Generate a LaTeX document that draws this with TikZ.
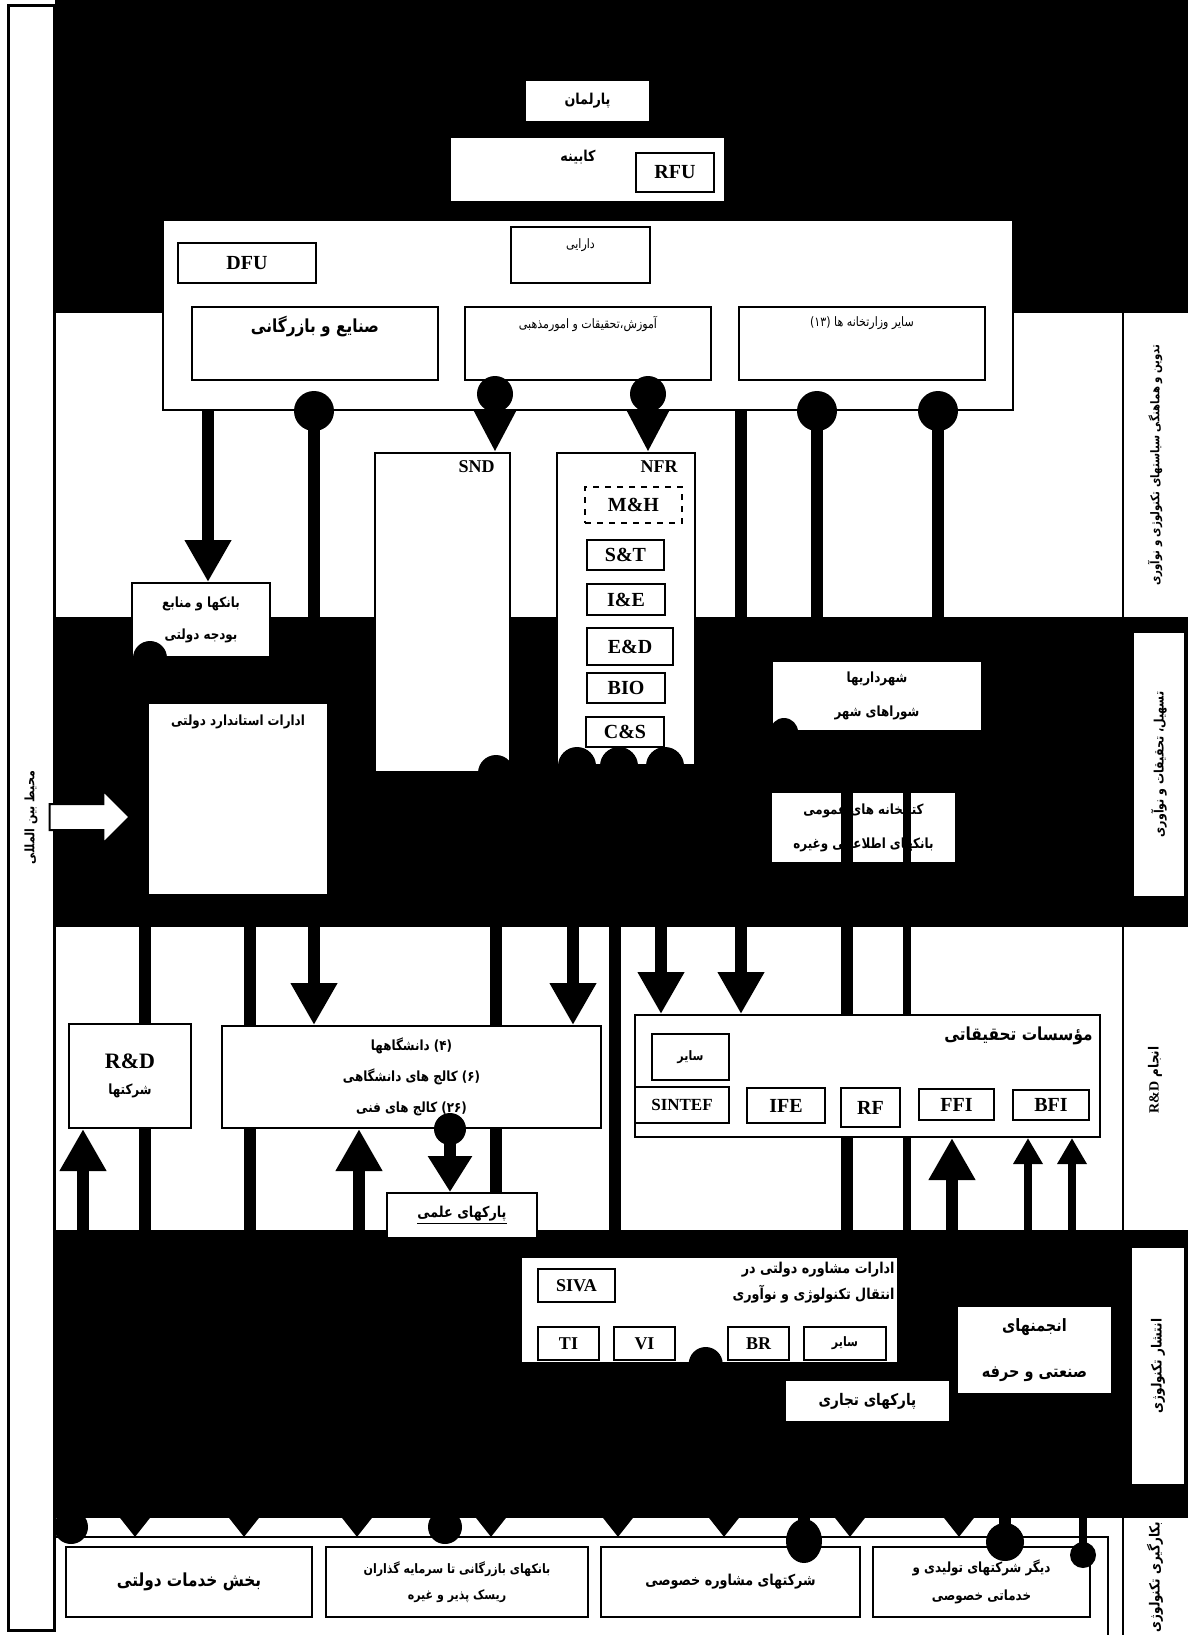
\documentclass[tikz,border=0pt]{standalone}
\usepackage{fontspec}
\setmainfont{Liberation Serif}
\newfontfamily\persianfont[Script=Arabic,FakeStretch=0.85]{DejaVu Sans}
\TeXXeTstate=1
\usetikzlibrary{arrows.meta,positioning,shapes.arrows,calc}
\newcommand{\pers}[1]{{\persianfont\beginR#1\endR}}
\pgfdeclarelayer{bands}
\pgfdeclarelayer{under}
\pgfdeclarelayer{wires}
\pgfdeclarelayer{top}
\pgfsetlayers{bands,under,wires,main,top}

\begin{document}
\begin{tikzpicture}[
  x=0.5pt, y=-0.5pt,
  box/.style={draw, fill=white, line width=1pt, inner sep=1pt, align=center},
  pbox/.style={box, font=\persianfont\bfseries\fontsize{7.5}{16}\selectfont},
  lbox/.style={box, line width=1.2pt, font=\bfseries\fontsize{10}{11}\selectfont},
  ptxt/.style={inner sep=0pt, align=center, font=\persianfont\bfseries\fontsize{7.5}{16}\selectfont},
  ntxt/.style={inner sep=0pt, align=center, font=\persianfont\fontsize{6.5}{14}\selectfont},
  ltxt/.style={inner sep=0pt, font=\bfseries\fontsize{9}{10}\selectfont},
  link/.style={line width=6pt},
  tolink/.style={link, -{Triangle[length=21pt,width=22pt]}},
  smallup/.style={line width=4pt, -{Triangle[length=13pt,width=14pt]}},
  endtip/.style={link, -{Triangle[length=10pt,width=15pt]}},
  band/.style={fill=black}
]
\useasboundingbox (0,0) rectangle (1188,1635);
\foreach \v in {71,83,135,145,208,244,250,314,357,359,445,450,491,495,496,573,615,618,648,661,724,741,804,817,847,850,907,938,952,959,1005,1028,1072,1083}
  \coordinate (x\v) at (\v,0);
\coordinate (b4) at (0,1470);
\coordinate (usr) at (0,1537);

\begin{pgfonlayer}{bands}
\fill[white] (0,0) rectangle (1188,1635);
\fill[band] (55,0) rectangle (1188,313);
\fill[band] (55,617) rectangle (1188,927);
\fill[band] (55,1230) rectangle (1188,1518);
\draw[line width=1pt] (1123,313) -- (1123,617) (1123,927) -- (1123,1230) (1123,1518) -- (1123,1635);
\draw[line width=1pt] (54,1537) -- (1108,1537) -- (1108,1635);
\end{pgfonlayer}

\node[pbox, rotate=90, line width=1.5pt, minimum width=812.5pt, minimum height=23pt, font=\persianfont\bfseries\fontsize{6.5}{7}\selectfont] (env) at (31,817.5) {\pers{محیط بین المللی}};

\node[pbox, minimum width=62.5pt, minimum height=21pt] (parl) at (587.5,101) {\pers{پارلمان}};
\node[box, minimum width=137.5pt, minimum height=32.5pt] (cab) at (587.5,169.5) {};
\node[ptxt] (cabT) at (578,157) {\pers{کابینه}};
\node[lbox, minimum width=39pt, minimum height=19.5pt] (rfu) at (675,172.5) {RFU};
\node[box, minimum width=425pt, minimum height=95pt] (minist) at (588,315) {};
\node[lbox, minimum width=69pt, minimum height=20pt] (dfu) at (247,263) {DFU};
\node[box, minimum width=69.5pt, minimum height=28pt] (darayi) at (580.5,255) {};
\node[ntxt, below=6pt of darayi.north] (darayiT) {\pers{دارایی}};
\node[box, minimum width=123pt, minimum height=36.5pt] (ind) at (315,343.5) {};
\node[ptxt, font=\persianfont\bfseries\fontsize{9}{11}\selectfont, below=5pt of ind.north] (indT) {\pers{صنایع و بازرگانی}};
\node[box, minimum width=123pt, minimum height=36.5pt] (edu) at (588,343.5) {};
\node[ntxt, below=5pt of edu.north] (eduT) {\pers{آموزش،تحقیقات و امورمذهبی}};
\node[box, minimum width=123pt, minimum height=36.5pt] (oth) at (862,343.5) {};
\node[ntxt, below=5pt of oth.north] (othT) {\pers{سایر وزارتخانه ها (۱۳)}};

\node[pbox, minimum width=69pt, minimum height=37pt, font=\persianfont\bfseries\fontsize{7}{16}\selectfont] (banks) at (201,620) {\pers{بانکها و منابع}\\\pers{بودجه دولتی}};
\node[box, minimum width=67.5pt, minimum height=159.5pt] (snd) at (442.5,612.5) {};
\node[ltxt, below left=4pt and 8pt of snd.north east] (sndT) {SND};
\node[box, minimum width=69pt, minimum height=156pt] (nfr) at (626,609) {};
\node[ltxt, below left=4pt and 9pt of nfr.north east] (nfrT) {NFR};
\node[lbox, dashed, minimum width=48.5pt, minimum height=18pt] (mh) at (633.5,505) {M\&H};
\node[lbox, minimum width=38.5pt, minimum height=15pt] (st) at (625.5,555) {S\&T};
\node[lbox, minimum width=39pt, minimum height=15.5pt] (ie) at (626,599.5) {I\&E};
\node[lbox, minimum width=43pt, minimum height=18.5pt] (ed) at (630,646.5) {E\&D};
\node[lbox, minimum width=39pt, minimum height=15pt] (bio) at (626,688) {BIO};
\node[lbox, minimum width=39pt, minimum height=15pt] (cs) at (625,732) {C\&S};
\node[box, minimum width=90pt, minimum height=96pt] (std) at (238,799) {};
\node[ptxt, font=\persianfont\bfseries\fontsize{7}{8}\selectfont, below=6pt of std.north] (stdT) {\pers{ادارات استاندارد دولتی}};
\node[single arrow, draw, fill=white, line width=1pt, inner xsep=0pt, inner ysep=6pt, minimum height=40pt, single arrow head extend=6.5pt, single arrow head indent=0pt] (inarr) at (83,817) {};
\node[pbox, minimum width=105pt, minimum height=35pt, font=\persianfont\bfseries\fontsize{7}{17}\selectfont] (munic) at (877,696) {\pers{شهرداریها}\\\pers{شوراهای شهر}};
\begin{pgfonlayer}{under}
\node[pbox, minimum width=92.5pt, minimum height=35.5pt, font=\persianfont\bfseries\fontsize{7}{17}\selectfont] (libr) at (863.5,827.5) {\pers{کتابخانه های عمومی}\\\pers{بانکهای اطلاعاتی وغیره}};
\end{pgfonlayer}

\node[pbox, minimum width=61pt, minimum height=52pt, font=\persianfont\bfseries\fontsize{7}{13}\selectfont] (rdco) at (130,1076) {{\rmfamily\bfseries\fontsize{11}{13}\selectfont R\&D}\\\pers{شرکتها}};
\node[pbox, minimum width=189.5pt, minimum height=51pt, font=\persianfont\bfseries\fontsize{7}{15.5}\selectfont] (univ) at (411.5,1077) {\pers{(۴) دانشگاهها}\\\pers{(۶) کالج های دانشگاهی}\\\pers{(۲۶) کالج های فنی}};
\node[box, minimum width=232.5pt, minimum height=61pt] (rinst) at (867.5,1076) {};
\node[ptxt, font=\persianfont\bfseries\fontsize{9}{11}\selectfont, below left=6pt and 4pt of rinst.north east] (rinstT) {\pers{مؤسسات تحقیقاتی}};
\node[pbox, minimum width=38.5pt, minimum height=23pt, font=\persianfont\bfseries\fontsize{6.5}{8}\selectfont] (rothr) at (690.5,1057) {\pers{سایر}};
\node[lbox, minimum width=47pt, minimum height=18pt, font=\bfseries\fontsize{8.5}{10}\selectfont] (sintef) at (682,1105) {SINTEF};
\node[lbox, minimum width=39pt, minimum height=17.5pt] (ife) at (786,1105.5) {IFE};
\node[lbox, minimum width=29.5pt, minimum height=19.5pt] (rf) at (870.5,1107.5) {RF};
\node[lbox, minimum width=37.5pt, minimum height=15.5pt] (ffi) at (956.5,1104.5) {FFI};
\node[lbox, minimum width=38pt, minimum height=15pt] (bfi) at (1051,1105) {BFI};
\node[pbox, minimum width=75pt, minimum height=22.5pt] (spark) at (462,1215.5) {\underline{\pers{پارکهای علمی}}};

\node[box, minimum width=188.5pt, minimum height=53pt] (advis) at (709.5,1310) {};
\node[ptxt, align=right, font=\persianfont\bfseries\fontsize{7.5}{13}\selectfont, below left=3pt and 2pt of advis.north east] (advisT) {\pers{ادارات مشاوره دولتی در}\\\pers{انتقال تکنولوژی و نوآوری}};
\node[lbox, minimum width=38.5pt, minimum height=16.5pt, font=\bfseries\fontsize{9}{10}\selectfont] (siva) at (576.5,1285.5) {SIVA};
\node[lbox, minimum width=30.5pt, minimum height=16.5pt, font=\bfseries\fontsize{9}{10}\selectfont] (ti) at (568.5,1343.5) {TI};
\node[lbox, minimum width=30.5pt, minimum height=16.5pt, font=\bfseries\fontsize{9}{10}\selectfont] (vi) at (644.5,1343.5) {VI};
\node[lbox, minimum width=30.5pt, minimum height=16.5pt, font=\bfseries\fontsize{9}{10}\selectfont] (br) at (758.5,1343.5) {BR};
\node[pbox, minimum width=41pt, minimum height=16.5pt, font=\persianfont\bfseries\fontsize{6.5}{8}\selectfont] (aothr) at (845,1343.5) {\pers{سایر}};
\node[pbox, minimum width=82.5pt, minimum height=21pt, font=\persianfont\bfseries\fontsize{8}{10}\selectfont] (tpark) at (867.5,1401) {\pers{پارکهای تجاری}};
\node[pbox, minimum width=77.5pt, minimum height=44pt, font=\persianfont\bfseries\fontsize{8.5}{23}\selectfont] (assoc) at (1034.5,1350) {\pers{انجمنهای}\\\pers{صنعتی و حرفه}};

\node[pbox, minimum width=123pt, minimum height=35pt, font=\persianfont\bfseries\fontsize{9}{11}\selectfont] (gov) at (189,1582) {\pers{بخش خدمات دولتی}};
\node[pbox, minimum width=131pt, minimum height=35pt, font=\persianfont\bfseries\fontsize{6.5}{13}\selectfont] (cbank) at (457,1582) {\pers{بانکهای بازرگانی تا سرمایه گذاران}\\\pers{ریسک پذیر و غیره}};
\node[pbox, minimum width=129.5pt, minimum height=35pt, font=\persianfont\bfseries\fontsize{7.5}{13}\selectfont] (consult) at (730.5,1582) {\pers{شرکتهای مشاوره خصوصی}};
\node[pbox, minimum width=108.5pt, minimum height=35pt, font=\persianfont\bfseries\fontsize{7}{14}\selectfont] (priv) at (981.5,1582) {\pers{دیگر شرکتهای تولیدی و}\\\pers{خدماتی خصوصی}};

\node[ptxt, rotate=90, font=\persianfont\bfseries\fontsize{6}{7}\selectfont] (lab1) at (1155,465) {\pers{تدوین و هماهنگی سیاستهای تکنولوژی و نوآوری}};
\node[pbox, rotate=90, minimum width=132.5pt, minimum height=26pt, font=\persianfont\bfseries\fontsize{6.5}{7}\selectfont] (lab2) at (1159,764.5) {\pers{تسهیل، تحقیقات و نوآوری}};
\node[ptxt, rotate=90, font=\persianfont\bfseries\fontsize{7}{8}\selectfont] (lab3) at (1155,1080) {\pers{انجام \beginL{\rmfamily R\&D}\endL}};
\node[pbox, rotate=90, minimum width=119pt, minimum height=27pt, font=\persianfont\bfseries\fontsize{7}{8}\selectfont] (lab4) at (1158,1366) {\pers{انتشار تکنولوژی}};
\node[ptxt, rotate=90, font=\persianfont\bfseries\fontsize{7}{8}\selectfont] (lab5) at (1155,1577) {\pers{بکارگیری تکنولوژی}};

\begin{pgfonlayer}{wires}
\draw[tolink] (minist.south -| x208) -- (banks.north -| x208);
\draw[tolink] (minist.south -| x314) -- (univ.north -| x314);
\draw[link, -{Triangle[length=21pt,width=20pt]}] (minist.south -| x495) -- (snd.north -| x495);
\draw[link, -{Triangle[length=21pt,width=20pt]}] (minist.south -| x648) -- (nfr.north -| x648);
\draw[tolink] (minist.south -| x741) -- (rinst.north -| x741);
\draw[link] (minist.south -| x817) -- (munic.north -| x817);
\draw[link] (minist.south -| x938) -- (munic.north -| x938);
\draw[link] (banks.south -| x145) -- (rdco.north -| x145);
\draw[link] (std.south -| x250) -- (univ.north -| x250);
\draw[link] (snd.south -| x496) -- (univ.north -| x496);
\draw[tolink] (nfr.south -| x573) -- (univ.north -| x573);
\draw[link] (nfr.south -| x615) -- (advis.north -| x615);
\draw[tolink] (nfr.south -| x661) -- (rinst.north -| x661);
\draw[link] (munic.south -| x847) -- (rinst.north -| x847);
\draw[line width=4pt] (munic.south -| x907) -- (rinst.north -| x907);
\draw[tolink] (x83 |- b4) -- (rdco.south -| x83);
\draw[link] (rdco.south -| x145) -- (x145 |- b4);
\draw[link] (univ.south -| x250) -- (x250 |- b4);
\draw[tolink] (x359 |- b4) -- (univ.south -| x359);
\draw[link, -{Triangle[length=18pt,width=21pt]}] (univ.south -| x450) -- (spark.north -| x450);
\draw[link] (univ.south -| x496) -- (x496 |- b4);
\draw[link] (rinst.south -| x847) -- (x847 |- b4);
\draw[line width=4pt] (rinst.south -| x907) -- (x907 |- b4);
\draw[tolink] (x952 |- b4) -- (rinst.south -| x952);
\draw[smallup] (x1028 |- b4) -- (rinst.south -| x1028);
\draw[smallup] (x1072 |- b4) -- (rinst.south -| x1072);
\foreach \v in {135,244,357,491,618,724,850,959}
  \draw[endtip] (x\v |- b4) -- (x\v |- usr);
\foreach \v in {71,445,804,1005}
  \draw[link] (x\v |- b4) -- (x\v |- usr);
\draw[line width=4pt] (x1083 |- b4) -- ($(x1083 |- usr)+(0,10)$);
\end{pgfonlayer}

\begin{pgfonlayer}{top}
\foreach \v in {314,817,938}
  \fill (minist.south -| x\v) circle (10pt);
\foreach \v in {495,648}
  \fill (minist.south -| x\v) ++(0,-17) circle (9pt);
\fill (banks.south -| x145) ++(5,0) circle (8.5pt);
\fill (snd.south -| x496) circle (9pt);
\foreach \v in {573,615,661}
  \fill (nfr.south -| x\v) ++(4,0) circle (9.5pt);
\fill (munic.south west) ++(13,0) circle (7pt);
\fill (univ.south -| x450) circle (8pt);
\fill ($(advis.south west)!0.49!(advis.south east)$) circle (8.5pt);
\foreach \v in {71,445}
  \fill ($(x\v |- usr)+(0,-10)$) circle (8.5pt);
\fill ($(x804 |- usr)+(0,4)$) ellipse (9pt and 11pt);
\fill ($(x1005 |- usr)+(0,5)$) circle (9.5pt);
\fill ($(x1083 |- usr)+(0,18)$) circle (6.5pt);
\end{pgfonlayer}
\end{tikzpicture}
\end{document}
